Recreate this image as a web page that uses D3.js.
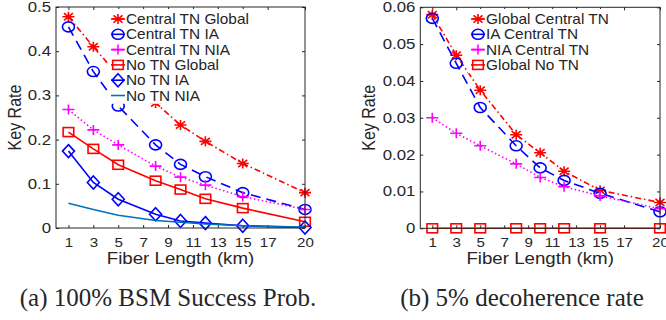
<!DOCTYPE html>
<html>
<head>
<meta charset="utf-8">
<script src="https://cdn.jsdelivr.net/npm/d3@7"></script>
<style>
  body { margin: 0; background: #fff; }
  text { font-family: "Liberation Sans", Arial, sans-serif; fill: #262626; }
</style>
</head>
<body>
<script>
// fiber lengths (km)
var fiberLen = [1, 3, 5, 8, 10, 12, 15, 20];
var xTickVals = [1, 3, 5, 7, 9, 11, 13, 15, 17, 20];

// (a) 100% BSM success prob.
var ctnGlobal = [0.478, 0.410, 0.345, 0.283, 0.233, 0.196, 0.146, 0.080];
var ctnIA     = [0.455, 0.354, 0.276, 0.188, 0.144, 0.116, 0.080, 0.042];
var ctnNIA    = [0.268, 0.222, 0.188, 0.140, 0.115, 0.097, 0.071, 0.042];
var noGlobal  = [0.217, 0.179, 0.143, 0.107, 0.087, 0.066, 0.045, 0.014];
var noIA      = [0.174, 0.103, 0.065, 0.031, 0.016, 0.011, 0.005, 0.001];
var noNIA     = [0.056, 0.042, 0.029, 0.017, 0.013, 0.009, 0.005, 0.002];
var yTicksA   = [0, 0.1, 0.2, 0.3, 0.4, 0.5];

// (b) 5% decoherence rate
var globalCentral = [0.0580, 0.0470, 0.0375, 0.0254, 0.0205, 0.0155, 0.0103, 0.0070];
var iaCentral     = [0.0570, 0.0448, 0.0328, 0.0224, 0.0164, 0.0130, 0.0095, 0.0045];
var niaCentral    = [0.0300, 0.0258, 0.0224, 0.0175, 0.0138, 0.0113, 0.0088, 0.0053];
var globalNo      = [0, 0, 0, 0, 0, 0, 0, 0];
var yTicksB       = [0, 0.01, 0.02, 0.03, 0.04, 0.05, 0.06];

var namesA = ["Central TN Global", "Central TN IA", "Central TN NIA", "No TN Global", "No TN IA", "No TN NIA"];
var namesB = ["Global Central TN", "IA Central TN", "NIA Central TN", "Global No TN"];

var RED = "#ff0000", BLUE = "#0000ff", MAG = "#ff00ff", STEEL = "#0072bd";
var S = 1.2; // figure looks stretched sideways

var svg = d3.select("body").append("svg")
    .attr("width", 666).attr("height", 320);

function drawMarker(g, type, cx, cy, color) {
    var m = g.append("g").attr("transform", "translate(" + cx + "," + cy + ")")
        .attr("fill", "none").attr("stroke", color).attr("stroke-width", 1.6);
    if (type == "star") {
        m.append("path").attr("d", "M-6,0H6M0,-5V5M-4.5,-3.6L4.5,3.6M-4.5,3.6L4.5,-3.6");
    } else if (type == "circle") {
        m.append("ellipse").attr("rx", 6).attr("ry", 5);
    } else if (type == "plus") {
        m.append("path").attr("d", "M-6,0H6M0,-5V5");
    } else if (type == "square") {
        m.append("rect").attr("x", -5.3).attr("y", -4.5).attr("width", 10.6).attr("height", 9);
    } else if (type == "diamond") {
        m.append("path").attr("d", "M0,-6.5L6,0L0,6.5L-6,0Z");
    }
}

function panel(cfg) {
    var x = d3.scaleLinear().domain([0, 20]).range([cfg.left, cfg.right]);
    var y = d3.scaleLinear().domain([0, cfg.ymax]).range([cfg.bottom, cfg.top]);
    var g = svg.append("g");

    g.append("rect").attr("x", cfg.left).attr("y", cfg.top)
        .attr("width", cfg.right - cfg.left).attr("height", cfg.bottom - cfg.top)
        .attr("fill", "#fff");

    var fmt = function(d) { return d === 0 ? "0" : String(+d.toFixed(3)); };

    var ax = g.append("g").attr("transform", "translate(0," + cfg.bottom + ")")
        .call(d3.axisBottom(x).tickValues(xTickVals).tickSizeInner(-3).tickSizeOuter(0).tickPadding(9));
    var ay = g.append("g").attr("transform", "translate(" + cfg.left + ",0)")
        .call(d3.axisLeft(y).tickValues(cfg.yTicks).tickFormat(fmt).tickSizeInner(-3).tickSizeOuter(0).tickPadding(5));
    g.append("g").attr("transform", "translate(0," + cfg.top + ")")
        .call(d3.axisTop(x).tickValues(xTickVals).tickFormat("").tickSizeInner(-3).tickSizeOuter(0));
    g.append("g").attr("transform", "translate(" + cfg.right + ",0)")
        .call(d3.axisRight(y).tickValues(cfg.yTicks).tickFormat("").tickSizeInner(-3).tickSizeOuter(0));

    g.selectAll(".domain").remove();
    g.selectAll(".tick line").attr("stroke", "#262626");
    ax.selectAll("text").attr("font-size", 13.5).attr("fill", "#262626")
        .attr("transform", "scale(1.12,1)");
    ay.selectAll("text").attr("font-size", 14).attr("fill", "#262626")
        .attr("x", -5 / S).attr("transform", "scale(" + S + ",1)");

    // series
    var line = d3.line().x(function(d) { return x(d[0]); }).y(function(d) { return y(d[1]); });
    cfg.series.forEach(function(s) {
        var pts = fiberLen.map(function(f, i) { return [f, s.values[i]]; });
        g.append("path").datum(pts).attr("d", line)
            .attr("fill", "none").attr("stroke", s.color).attr("stroke-width", 1.6)
            .attr("stroke-dasharray", s.dash);
        pts.forEach(function(p) { drawMarker(g, s.marker, x(p[0]), y(p[1]), s.color); });
    });

    // frame
    g.append("rect").attr("x", cfg.left).attr("y", cfg.top)
        .attr("width", cfg.right - cfg.left).attr("height", cfg.bottom - cfg.top)
        .attr("fill", "none").attr("stroke", "#262626").attr("stroke-width", 1);

    // legend
    var lg = g.append("g");
    lg.append("rect").attr("x", cfg.leg.x).attr("y", cfg.leg.y)
        .attr("width", cfg.leg.w).attr("height", cfg.series.length * 15.3 + 3)
        .attr("fill", "#fff");
    cfg.series.forEach(function(s, i) {
        var ry = cfg.leg.y + 10 + i * 15.3;
        var mx = cfg.leg.x + 10;
        lg.append("line").attr("x1", mx - 7).attr("x2", mx + 7).attr("y1", ry).attr("y2", ry)
            .attr("stroke", s.color).attr("stroke-width", 1.6);
        drawMarker(lg, s.marker, mx, ry, s.color);
        lg.append("text").attr("transform", "translate(" + (mx + 8) + "," + (ry + 5) + ") scale(1.1,1)")
            .attr("font-size", 14).text(s.name);
    });

    // axis labels
    g.append("text").attr("transform", "translate(" + ((cfg.left + cfg.right) / 2) + "," + 264 + ") scale(1.1,1)")
        .attr("text-anchor", "middle").attr("font-size", 17).text("Fiber Length (km)");
    g.append("text").attr("transform", "translate(" + cfg.ylabX + "," + ((cfg.top + cfg.bottom) / 2) + ") scale(1.12,1) rotate(-90)")
        .attr("text-anchor", "middle").attr("font-size", 16).text("Key Rate");

    svg.append("text").attr("x", cfg.capX).attr("y", 306).attr("text-anchor", "middle")
        .style("font-family", "'Liberation Serif', 'Times New Roman', serif")
        .attr("font-size", 25).attr("fill", "#000").text(cfg.caption);
}

panel({
    left: 56, right: 305, top: 7, bottom: 228, ymax: 0.5, yTicks: yTicksA, ylabX: 21,
    leg: { x: 108, y: 9, w: 150 }, capX: 168, caption: "(a) 100% BSM Success Prob.",
    series: [
        { name: namesA[0], values: ctnGlobal, color: RED,   dash: "6,3,1.5,3", marker: "star" },
        { name: namesA[1], values: ctnIA,     color: BLUE,  dash: "10,6",      marker: "circle" },
        { name: namesA[2], values: ctnNIA,    color: MAG,   dash: "1.5,2.5",   marker: "plus" },
        { name: namesA[3], values: noGlobal,  color: RED,   dash: null,        marker: "square" },
        { name: namesA[4], values: noIA,      color: BLUE,  dash: null,        marker: "diamond" },
        { name: namesA[5], values: noNIA,     color: STEEL, dash: null,        marker: "none" }
    ]
});

panel({
    left: 420.3, right: 660, top: 7.3, bottom: 228.3, ymax: 0.06, yTicks: yTicksB, ylabX: 375,
    leg: { x: 468, y: 9, w: 150 }, capX: 522, caption: "(b) 5% decoherence rate",
    series: [
        { name: namesB[0], values: globalCentral, color: RED,  dash: "6,3,1.5,3", marker: "star" },
        { name: namesB[1], values: iaCentral,     color: BLUE, dash: "10,6",      marker: "circle" },
        { name: namesB[2], values: niaCentral,    color: MAG,  dash: "1.5,2.5",   marker: "plus" },
        { name: namesB[3], values: globalNo,      color: RED,  dash: null,        marker: "square" }
    ]
});
</script>
</body>
</html>
